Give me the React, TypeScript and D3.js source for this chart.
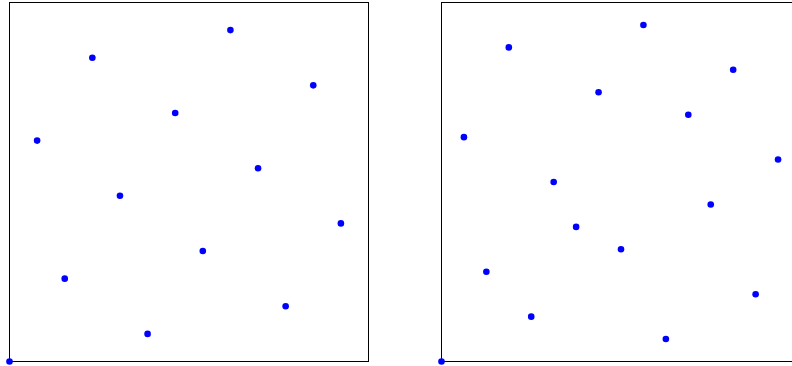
import React, { useRef, useEffect } from 'react';
import * as d3 from 'd3';

// left panel: 13 points, coordinates in [0,1]
const leftX = [0, 1, 2, 3, 4, 5, 6, 7, 8, 9, 10, 11, 12].map(v => v / 13);
const leftY = [0, 8, 3, 11, 6, 1, 9, 4, 12, 7, 2, 10, 5].map(v => v / 13);

// right panel: 16 points
const rightX = [0, 1, 2, 3, 4, 5, 6, 7, 8, 9, 10, 11, 12, 13, 14, 15].map(v => v / 16);
const rightY = [0, 10, 4, 14, 2, 8, 6, 12, 5, 15, 1, 11, 7, 13, 3, 9].map(v => v / 16);

const panels = [
    { xs: leftX, ys: leftY, left: 9.5 },
    { xs: rightX, ys: rightY, left: 441.5 },
];

const App = () => {
    const svgRef = useRef<SVGSVGElement>(null);

    const width = 792;
    const height = 366;
    const size = 359;
    const top = 2.5;

    useEffect(() => {
        const svg = d3.select(svgRef.current);
        svg.selectAll('*').remove();

        panels.forEach(p => {
            const x = d3.scaleLinear().domain([0, 1]).range([p.left, p.left + size]);
            const y = d3.scaleLinear().domain([0, 1]).range([top + size, top]);

            svg.append('rect')
                .attr('x', p.left)
                .attr('y', top)
                .attr('width', size)
                .attr('height', size)
                .attr('fill', 'none')
                .attr('stroke', '#000')
                .attr('stroke-width', 1);

            const data = p.xs.map((v, i) => ({ x: v, y: p.ys[i] }));
            svg.append('g')
                .selectAll('circle')
                .data(data)
                .enter().append('circle')
                .attr('cx', d => x(d.x))
                .attr('cy', d => y(d.y))
                .attr('r', 3.3)
                .attr('fill', '#0000ff');
        });

        return () => {
            d3.select(svgRef.current).selectAll('*').remove();
        };
    }, []);

    return (
        <svg
            ref={svgRef}
            width={width}
            height={height}
            style={{ position: 'absolute', left: 0, top: 0, background: '#fff' }}
        />
    );
};

export default App;
